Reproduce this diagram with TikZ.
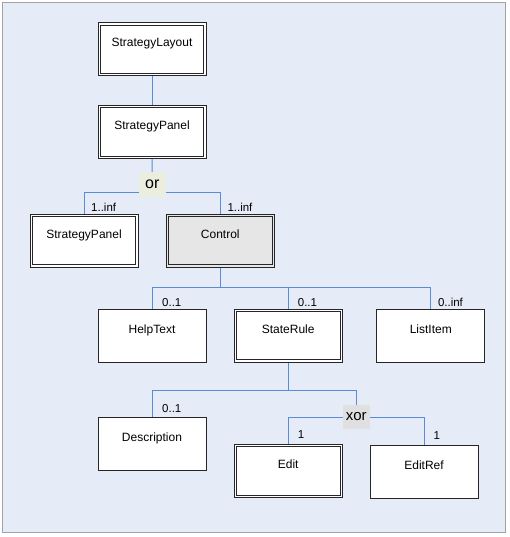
\documentclass[tikz,border=0pt]{standalone}
\usepackage{fontspec}
\setmainfont{Liberation Sans}
\usetikzlibrary{positioning}
\definecolor{panelbg}{RGB}{230,236,247}
\definecolor{panelrim}{RGB}{163,163,163}
\definecolor{linkblue}{RGB}{88,140,214}
\definecolor{orfill}{RGB}{235,237,223}
\definecolor{xorfill}{RGB}{224,224,224}
\definecolor{ctrlfill}{RGB}{230,230,230}
\tikzset{
	elem/.style={draw=black!85, line width=1pt, fill=white, inner sep=0pt, minimum width=108pt, text height=24pt, text depth=29pt, font=\fontsize{12}{14}\selectfont},
	rim/.style={draw=black!85, line width=1pt},
	gate/.style={inner sep=0pt, minimum width=27pt, minimum height=24.4pt},
	mult/.style={inner sep=0pt, font=\fontsize{11.5}{13}\selectfont},
	link/.style={draw=linkblue, line width=1pt}
}

\begin{document}
\begin{tikzpicture}[x=1pt, y=-1pt]
			%%%%% START %%%%%
			
			\useasboundingbox (0, 0) rectangle (510, 537);
			\draw[fill=panelbg, draw=panelrim, line width=1pt] (2.5, 2.5) rectangle (505.5, 532.5);
			
			\coordinate (busOr) at (152, 192.3);
			\coordinate (busCtrl) at (220, 287.3);
			\coordinate (busRule) at (288, 390);
			
			\node[elem] (layout) at (152, 49.5) {StrategyLayout};
			\node[elem] (panel) at (152, 131.8) {StrategyPanel};
			\node[gate, fill=orfill, font=\fontsize{16}{18}\selectfont] (orgate) at (152.3, 184.5) {or};
			
			\node[elem] (subpanel) at (84, 240.5) {StrategyPanel};
			\node[elem, fill=ctrlfill] (control) at (220.3, 240.5) {Control};
			
			\node[elem] (help) at (152, 335.5) {HelpText};
			\node[elem] (rule) at (288.2, 335.5) {StateRule};
			\node[elem] (item) at (430.8, 335.5) {ListItem};
			
			\node[elem] (descr) at (152, 444.2) {Description};
			\node[gate, fill=xorfill, minimum height=24pt, font=\fontsize{15}{17}\selectfont] (xorgate) at (356.3, 417) {xor};
			\node[elem] (edit) at (288.2, 470.8) {Edit};
			\node[elem] (editref) at (424, 471.5) {EditRef};
			
			% inner rims of the composite elements
			\foreach \n in {layout, panel, subpanel, control, rule, edit}
				\draw[rim] ([xshift=2.7pt, yshift=2.7pt]\n.south west) rectangle ([xshift=-2.7pt, yshift=-2.7pt]\n.north east);
			
			\draw[link] (layout) -- (panel);
			\draw[link] (panel) -- (orgate);
			\draw[link] (orgate.west |- busOr) -| (subpanel.north);
			\draw[link] (orgate.east |- busOr) -| (control.north);
			
			\draw[link] (control.south) -- (control.south |- busCtrl);
			\draw[link] (help.north) |- (item.north |- busCtrl) -- (item.north);
			\draw[link] (rule.north) -- (rule.north |- busCtrl);
			
			\draw[link] (rule.south) -- (rule.south |- busRule);
			\draw[link] (descr.north) |- (xorgate.north |- busRule) -- (xorgate.north);
			\draw[link] (xorgate.west) -| (edit.north);
			\draw[link] (xorgate.east) -| (editref.north);
			
			\node[mult, above right=2pt and 7pt of subpanel.north] (mSub) {1..inf};
			\node[mult, above right=2pt and 7pt of control.north] (mCtrl) {1..inf};
			\node[mult, above right=2pt and 10pt of help.north] (mHelp) {0..1};
			\node[mult, above right=2pt and 9.5pt of rule.north] (mRule) {0..1};
			\node[mult, above right=2pt and 7pt of item.north] (mItem) {0..inf};
			\node[mult, above right=4.7pt and 10pt of descr.north] (mDescr) {0..1};
			\node[mult, above right=5pt and 9.5pt of edit.north] (mEdit) {1};
			\node[mult, above right=5pt and 9.5pt of editref.north] (mRef) {1};
			
			%%%%% END %%%%%
\end{tikzpicture}
\end{document}
